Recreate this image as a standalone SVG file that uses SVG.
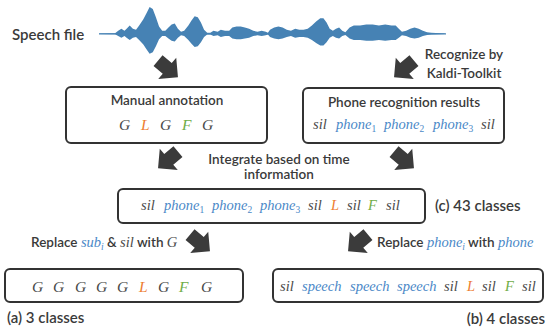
<svg xmlns="http://www.w3.org/2000/svg" width="547" height="329" viewBox="0 0 547 329">
<defs>
<style>
.t{font-family:Lato,"Noto Sans","Liberation Sans",sans-serif;fill:#3a3a3a;font-size:13.5px;font-weight:600}
.big{font-size:15px}
.m{font-family:"Liberation Serif","DejaVu Serif",serif;font-style:italic;font-weight:normal;font-size:14.5px;fill:#4a4a4a}
.mg{font-size:15.5px}
.b{fill:#4a88c7}
.o{fill:#ed7d31}
.g{fill:#70ad47}
.sub{font-size:9.5px}
.up{font-style:normal}
.box{fill:#fff;stroke:#333;stroke-width:2}
.arr{fill:#3b3b3b}
</style>
<polygon id="ah" points="-13,-7 -1,-7 -1,-14 13,0 -1,14 -1,7 -13,7"/>
</defs>
<rect width="547" height="329" fill="#fff"/>

<g id="speech">
<text class="t big" x="12" y="40">Speech file</text>
<line x1="99" y1="33.8" x2="446" y2="33.8" stroke="#4682b4" stroke-width="1.2"/>
<path fill="#4682b4" transform="matrix(1.047 0 0 1.03 -0.1 -0.2)" d="M95,32.6 L110,32.4 L113,30 L116,28 L119,30 L121,28 L124,25 L127,28 L130,29 L133,25 L137,19 L140,13 L143,7 L146,9 L149,17 L152,26 L155,30 L158,30 L161,27 L164,24 L167,23 L170,28 L173,31 L176,30 L180,25 L183,20 L186,16 L189,17 L192,22 L195,29 L198,32 L201,32 L204,30 L208,31 L211,29 L215,30 L219,30 L222,27 L226,26 L230,26 L234,27 L238,28 L242,30 L246,31 L250,30 L254,31 L256,32 L258,29 L262,27 L266,26 L270,27 L274,29 L278,30 L282,28 L286,29 L290,29 L294,28 L298,25 L302,21 L306,18 L309,18 L312,22 L315,28 L318,30 L321,28 L324,27 L327,30 L330,31.5 L334,27 L338,25 L344,25 L350,24 L356,24 L362,25 L368,24 L374,25 L378,25 L381,28 L384,31 L388,30 L392,28 L396,27 L400,28 L404,30 L408,31.5 L412,32 L425,32.6 L425,33.3 L412,33.75 L408,34.1 L404,35.25 L400,36.75 L396,37.5 L392,36.75 L388,35.25 L384,34.5 L381,36.75 L378,39 L374,39 L368,39.75 L362,39 L356,39.75 L350,39.75 L344,39 L338,39 L334,37.5 L330,34.1 L327,35.25 L324,37.5 L321,36.75 L318,35.25 L315,36.75 L312,41.25 L309,44.25 L306,44.25 L302,42 L298,39 L294,36.75 L290,36 L286,36 L282,36.75 L278,35.25 L274,36 L270,37.5 L266,38.25 L262,37.5 L258,36 L256,33.75 L254,34.5 L250,35.25 L246,34.5 L242,35.25 L238,36.75 L234,37.5 L230,38.25 L226,38.25 L222,37.5 L219,35.25 L215,35.25 L211,36 L208,34.5 L204,35.25 L201,33.75 L198,33.75 L195,36 L192,41.25 L189,45 L186,45.75 L183,42.75 L180,39 L176,35.25 L173,34.5 L170,36.75 L167,40.5 L164,39.75 L161,37.5 L158,35.25 L155,35.25 L152,38.25 L149,45 L146,51 L143,52.5 L140,48 L137,43.5 L133,39 L130,36 L127,36.75 L124,39 L121,36.75 L119,35.25 L116,36.75 L113,35.25 L110,33.45 L95,33.3 Z"/>
</g>

<g id="connectors">
<use href="#ah" class="arr" transform="translate(168,69) rotate(40)"/>
<use href="#ah" class="arr" transform="translate(404,69) rotate(140)"/>
<use href="#ah" class="arr" transform="translate(168,160) rotate(140)"/>
<use href="#ah" class="arr" transform="translate(404,160) rotate(40)"/>
<use href="#ah" class="arr" transform="translate(200,243) rotate(40)"/>
<use href="#ah" class="arr" transform="translate(358,243) rotate(140)"/>
<text class="t" x="464" y="59" text-anchor="middle">Recognize by</text>
<text class="t" x="464" y="78" text-anchor="middle">Kaldi-Toolkit</text>
<text class="t" x="279" y="164" text-anchor="middle">Integrate based on time</text>
<text class="t" x="279" y="178.5" text-anchor="middle">information</text>
<text class="t" x="31" y="247">Replace <tspan class="m b" font-size="13.5px">sub<tspan class="sub" dy="3">i</tspan></tspan><tspan dy="-3"> &amp; </tspan><tspan class="m" font-size="13.5px">sil</tspan> with <tspan class="m" font-size="13.5px">G</tspan></text>
<text class="t" x="377" y="247">Replace <tspan class="m b" font-size="13.5px">phone<tspan class="sub" dy="3">i</tspan></tspan><tspan dy="-3"> with </tspan><tspan class="m b" font-size="13.5px">phone</tspan></text>
</g>

<g id="manual">
<rect class="box" x="66" y="87" width="201" height="56" rx="5"/>
<text class="t" x="167" y="105" text-anchor="middle">Manual annotation</text>
<text class="m mg" y="130"><tspan x="119">G</tspan><tspan x="141" class="o">L</tspan><tspan x="160">G</tspan><tspan x="182" class="g">F</tspan><tspan x="202">G</tspan></text>
</g>

<g id="phone">
<rect class="box" x="303" y="88" width="201" height="55" rx="5"/>
<text class="t" x="404" y="107" text-anchor="middle">Phone recognition results</text>
<text class="m" y="129"><tspan x="313">sil</tspan><tspan x="336" class="b">phone<tspan class="sub up" dy="3">1</tspan></tspan><tspan x="384" y="129" class="b">phone<tspan class="sub up" dy="3">2</tspan></tspan><tspan x="433" y="129" class="b">phone<tspan class="sub up" dy="3">3</tspan></tspan><tspan x="481" y="129">sil</tspan></text>
</g>

<g id="combined">
<rect class="box" x="118" y="189" width="307" height="34" rx="5"/>
<text class="m" y="210"><tspan x="141">sil</tspan><tspan x="164" class="b">phone<tspan class="sub up" dy="3">1</tspan></tspan><tspan x="212" y="210" class="b">phone<tspan class="sub up" dy="3">2</tspan></tspan><tspan x="260" y="210" class="b">phone<tspan class="sub up" dy="3">3</tspan></tspan><tspan x="308" y="210">sil</tspan><tspan x="331" class="o">L</tspan><tspan x="347">sil</tspan><tspan x="368" class="g">F</tspan><tspan x="386">sil</tspan></text>
<text class="t big" x="435" y="211">(c) 43 classes</text>
</g>

<g id="three">
<rect class="box" x="5" y="269" width="238" height="33" rx="5"/>
<text class="m mg" y="292"><tspan x="32">G</tspan><tspan x="53">G</tspan><tspan x="75">G</tspan><tspan x="96">G</tspan><tspan x="117">G</tspan><tspan x="139" class="o">L</tspan><tspan x="158">G</tspan><tspan x="179" class="g">F</tspan><tspan x="201">G</tspan></text>
<text class="t big" x="7" y="323">(a) 3 classes</text>
</g>

<g id="four">
<rect class="box" x="273" y="269" width="270" height="33" rx="5"/>
<text class="m" y="291"><tspan x="280">sil</tspan><tspan x="302" class="b">speech</tspan><tspan x="350" class="b">speech</tspan><tspan x="397" class="b">speech</tspan><tspan x="444">sil</tspan><tspan x="467" class="o">L</tspan><tspan x="482">sil</tspan><tspan x="505" class="g">F</tspan><tspan x="522">sil</tspan></text>
<text class="t big" x="545" y="324" text-anchor="end">(b) 4 classes</text>
</g>
</svg>
